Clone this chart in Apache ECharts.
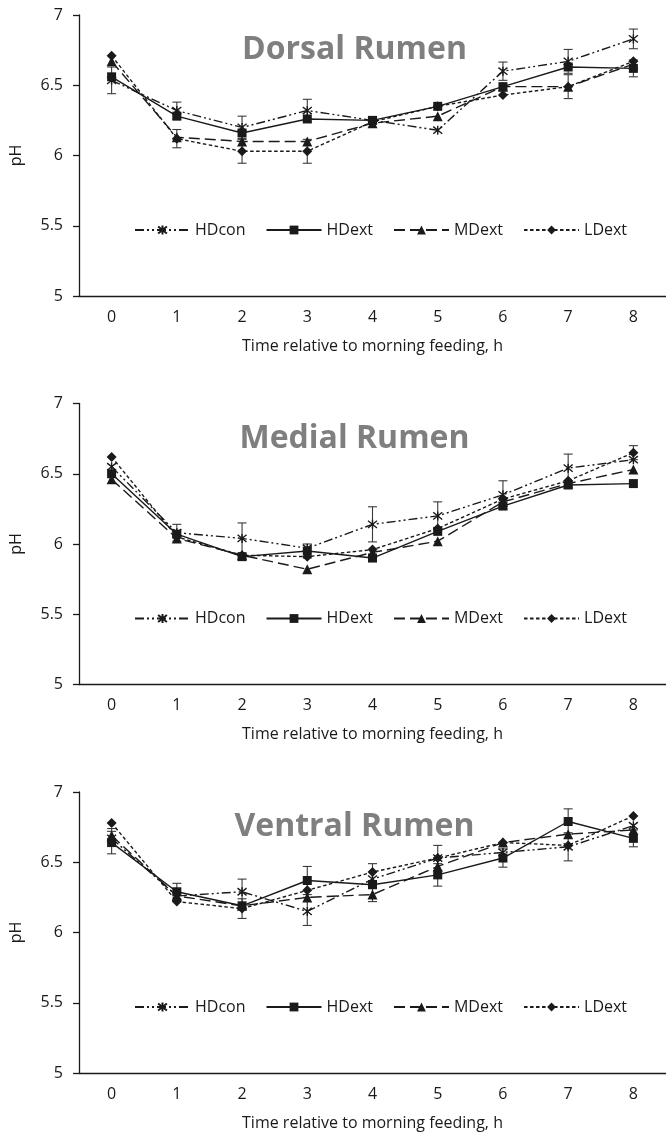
<!DOCTYPE html>
<html>
<head>
<meta charset="utf-8">
<script src="https://cdn.jsdelivr.net/npm/echarts@6/dist/echarts.min.js"></script>
<style>
html,body{margin:0;padding:0;background:#ffffff;}
#chart{width:666px;height:1137px;}
</style>
</head>
<body>
<div id="chart"></div>
<script>
// Sampling times (h relative to morning feeding)
const hours = ['0', '1', '2', '3', '4', '5', '6', '7', '8'];
const seriesNames = ['HDcon', 'HDext', 'MDext', 'LDext'];
const panelTitles = ['Dorsal Rumen', 'Medial Rumen', 'Ventral Rumen'];
const xAxisTitle = 'Time relative to morning feeding, h';
const yAxisTitle = 'pH';

// Dorsal rumen pH means
const dorsalHDcon = [6.535, 6.32, 6.20, 6.32, 6.25, 6.18, 6.60, 6.67, 6.83];
const dorsalHDext = [6.56, 6.28, 6.16, 6.26, 6.25, 6.35, 6.49, 6.63, 6.62];
const dorsalMDext = [6.67, 6.13, 6.10, 6.10, 6.23, 6.28, 6.49, 6.49, 6.65];
const dorsalLDext = [6.71, 6.12, 6.03, 6.03, 6.24, 6.35, 6.43, 6.49, 6.67];
// Dorsal rumen SE
const dorsalHDconSE = [0.095, 0.06, 0.08, 0.08, null, null, 0.065, 0.085, 0.07];
const dorsalHDextSE = [null, null, null, null, null, null, null, null, 0.06];
const dorsalMDextSE = [null, null, null, null, null, null, null, 0.085, null];
const dorsalLDextSE = [null, 0.065, 0.085, 0.085, null, null, null, null, null];

// Medial rumen pH means
const medialHDcon = [6.55, 6.08, 6.04, 5.97, 6.14, 6.20, 6.35, 6.54, 6.60];
const medialHDext = [6.50, 6.07, 5.91, 5.95, 5.90, 6.09, 6.27, 6.42, 6.43];
const medialMDext = [6.46, 6.04, 5.92, 5.82, 5.94, 6.02, 6.30, 6.43, 6.53];
const medialLDext = [6.62, 6.05, 5.92, 5.91, 5.96, 6.11, 6.32, 6.45, 6.65];
// Medial rumen SE
const medialHDconSE = [null, 0.06, 0.11, null, 0.125, 0.10, 0.10, 0.10, null];
const medialHDextSE = [null, null, null, 0.05, null, null, null, null, null];
const medialMDextSE = [null, null, null, null, null, null, null, null, null];
const medialLDextSE = [null, null, null, null, null, null, null, null, 0.05];

// Ventral rumen pH means
const ventralHDcon = [6.67, 6.26, 6.29, 6.15, 6.38, 6.53, 6.57, 6.61, 6.76];
const ventralHDext = [6.64, 6.29, 6.19, 6.37, 6.34, 6.41, 6.53, 6.79, 6.67];
const ventralMDext = [6.69, 6.26, 6.19, 6.25, 6.27, 6.47, 6.64, 6.70, 6.73];
const ventralLDext = [6.78, 6.22, 6.17, 6.30, 6.43, 6.53, 6.64, 6.62, 6.83];
// Ventral rumen SE
const ventralHDconSE = [null, null, 0.09, 0.10, null, 0.09, null, 0.10, null];
const ventralHDextSE = [0.08, 0.06, null, 0.10, null, 0.08, 0.065, 0.09, 0.06];
const ventralMDextSE = [0.05, null, null, null, 0.05, null, null, null, null];
const ventralLDextSE = [null, null, 0.07, null, 0.06, null, null, null, null];

const panels = [
  { means: [dorsalHDcon, dorsalHDext, dorsalMDext, dorsalLDext],
    se: [dorsalHDconSE, dorsalHDextSE, dorsalMDextSE, dorsalLDextSE] },
  { means: [medialHDcon, medialHDext, medialMDext, medialLDext],
    se: [medialHDconSE, medialHDextSE, medialMDextSE, medialLDextSE] },
  { means: [ventralHDcon, ventralHDext, ventralMDext, ventralLDext],
    se: [ventralHDconSE, ventralHDextSE, ventralMDextSE, ventralLDextSE] }
];

const FONT = 'Open Sans';
const INK = '#1a1a1a';
const asterisk = 'path://M1,1L9,9M9,1L1,9M5,0L5,10';

// Per-treatment line and marker styles
const styles = {
  HDcon: { symbol: asterisk, size: 9, dash: [9, 3, 2, 3, 2, 3], stroke: true },
  HDext: { symbol: 'rect', size: 9, dash: 'solid' },
  MDext: { symbol: 'triangle', size: 10, dash: [11, 5] },
  LDext: { symbol: 'diamond', size: 10, dash: [3.5, 2.5] }
};

const PANEL_TOP = 15;
const PANEL_STEP = 388.5;
const PANEL_H = 281;

const grids = [], xAxes = [], yAxes = [], legends = [], series = [], graphics = [];

function renderErrorBar(params, api) {
  const x = api.value(0);
  const top = api.coord([x, api.value(2)]);
  const bot = api.coord([x, api.value(1)]);
  const cap = 4.5;
  const st = { stroke: '#3a3a3a', lineWidth: 1.1 };
  return {
    type: 'group',
    children: [
      { type: 'line', shape: { x1: top[0], y1: top[1], x2: bot[0], y2: bot[1] }, style: st },
      { type: 'line', shape: { x1: top[0] - cap, y1: top[1], x2: top[0] + cap, y2: top[1] }, style: st },
      { type: 'line', shape: { x1: bot[0] - cap, y1: bot[1], x2: bot[0] + cap, y2: bot[1] }, style: st }
    ]
  };
}

panels.forEach(function (panel, p) {
  const top = PANEL_TOP + PANEL_STEP * p;
  grids.push({ left: 76, top: top, width: 597, height: PANEL_H, containLabel: false });
  xAxes.push({
    type: 'category', gridIndex: p, data: hours, boundaryGap: true,
    axisLine: { lineStyle: { color: INK, width: 1.3 } },
    axisTick: { show: false },
    axisLabel: { color: INK, fontFamily: FONT, fontSize: 16, margin: 13 },
    name: xAxisTitle, nameLocation: 'middle', nameGap: 42,
    nameTextStyle: { color: INK, fontFamily: FONT, fontSize: 16 }
  });
  yAxes.push({
    type: 'value', gridIndex: p, min: 5, max: 7, interval: 0.5,
    axisLine: { show: true, lineStyle: { color: INK, width: 1.3 } },
    axisTick: { show: true, length: 6, lineStyle: { color: INK, width: 1.3 } },
    splitLine: { show: false },
    axisLabel: { color: INK, fontFamily: FONT, fontSize: 16, margin: 16 },
    name: yAxisTitle, nameLocation: 'middle', nameGap: 55, nameRotate: 90,
    nameTextStyle: { color: INK, fontFamily: FONT, fontSize: 16 }
  });
  legends.push({
    data: seriesNames, left: 129, top: top + 202, orient: 'horizontal',
    itemWidth: 55, itemHeight: 11, itemGap: 20,
    textStyle: { color: INK, fontFamily: FONT, fontSize: 16 },
    selectedMode: false
  });
  graphics.push({
    type: 'text', x: 354.5, y: top + 35,
    style: {
      text: panelTitles[p], fill: '#7f7f7f', align: 'center', verticalAlign: 'middle',
      font: 'bold 32px "Open Sans"'
    }
  });

  // Error bars
  seriesNames.forEach(function (name, s) {
    const bars = [];
    panel.means[s].forEach(function (v, t) {
      const e = panel.se[s][t];
      if (e != null) bars.push([t, v - e, v + e]);
    });
    if (bars.length) {
      series.push({
        type: 'custom', xAxisIndex: p, yAxisIndex: p, renderItem: renderErrorBar,
        data: bars, z: 1, silent: true
      });
    }
  });

  // Mean lines with markers
  seriesNames.forEach(function (name, s) {
    const st = styles[name];
    series.push({
      name: name, type: 'line', xAxisIndex: p, yAxisIndex: p,
      data: panel.means[s],
      symbol: st.symbol, symbolSize: st.size, showAllSymbol: true,
      lineStyle: { color: INK, width: 1.4, type: st.dash },
      itemStyle: st.stroke
        ? { color: INK, borderColor: INK, borderWidth: 1.4 }
        : { color: INK, borderWidth: 0 },
      emphasis: { disabled: true },
      animation: false, z: 3
    });
  });
});

const chart = echarts.init(document.getElementById('chart'), null, { renderer: 'canvas' });
chart.setOption({
  backgroundColor: '#ffffff',
  animation: false,
  grid: grids,
  xAxis: xAxes,
  yAxis: yAxes,
  legend: legends,
  graphic: graphics,
  series: series
});
</script>
</body>
</html>
